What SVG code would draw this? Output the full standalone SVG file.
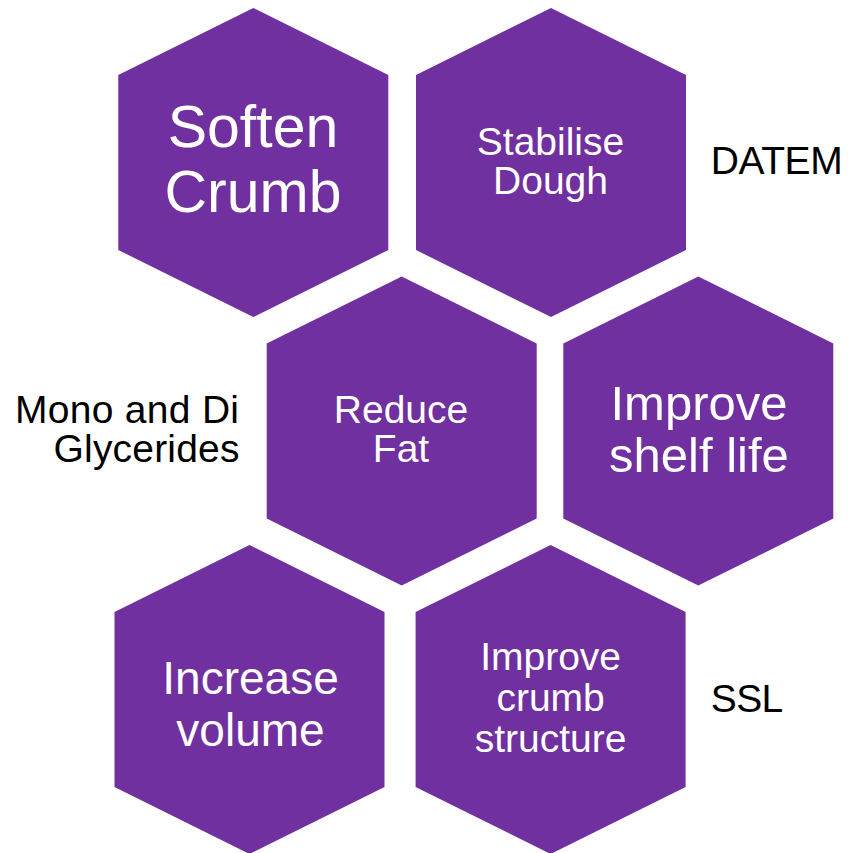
<svg xmlns="http://www.w3.org/2000/svg" width="848" height="853" viewBox="0 0 848 853">
<defs>
<style>
.hex{fill:#7030A0;}
.w{fill:#FFFFFF;font-family:"Liberation Sans",Arial,sans-serif;text-anchor:middle;}
.b{fill:#000000;font-family:"Liberation Sans",Arial,sans-serif;font-size:39px;}
</style>
<polygon id="hexshape" points="0,-154.5 135,-87.5 135,87.5 0,154.5 -135,87.5 -135,-87.5"/>
</defs>
<rect width="848" height="853" fill="#FFFFFF"/>
<g id="connectors"></g>
<g id="soften-crumb">
<use href="#hexshape" class="hex" transform="translate(253.3,162.5)"/>
<text class="w" font-size="59" x="253" y="147">Soften</text>
<text class="w" font-size="59" x="253" y="212">Crumb</text>
</g>
<g id="stabilise-dough">
<use href="#hexshape" class="hex" transform="translate(551,162.5)"/>
<text class="w" font-size="39" x="550.5" y="155">Stabilise</text>
<text class="w" font-size="39" x="550.5" y="194">Dough</text>
</g>
<g id="reduce-fat">
<use href="#hexshape" class="hex" transform="translate(401.7,431)"/>
<text class="w" font-size="39" x="401" y="423">Reduce</text>
<text class="w" font-size="39" x="401" y="462">Fat</text>
</g>
<g id="improve-shelf-life">
<use href="#hexshape" class="hex" transform="translate(698.3,431)"/>
<text class="w" font-size="49" x="699" y="419.5">Improve</text>
<text class="w" font-size="49" x="699" y="472">shelf life</text>
</g>
<g id="increase-volume">
<use href="#hexshape" class="hex" transform="translate(249.5,699.5)"/>
<text class="w" font-size="46" x="250.5" y="693.5">Increase</text>
<text class="w" font-size="46" x="250.5" y="746">volume</text>
</g>
<g id="improve-crumb-structure">
<use href="#hexshape" class="hex" transform="translate(550.6,699.5)"/>
<text class="w" font-size="39" x="550.6" y="669.5">Improve</text>
<text class="w" font-size="39" x="550.6" y="711">crumb</text>
<text class="w" font-size="39" x="550.6" y="752">structure</text>
</g>
<g id="label-datem">
<text class="b" x="710.7" y="174" textLength="132">DATEM</text>
</g>
<g id="label-mono-di">
<text class="b" x="15" y="423" textLength="224">Mono and Di</text>
<text class="b" x="53.5" y="462" textLength="186">Glycerides</text>
</g>
<g id="label-ssl">
<text class="b" x="710.7" y="711.7" textLength="72.6">SSL</text>
</g>
</svg>
